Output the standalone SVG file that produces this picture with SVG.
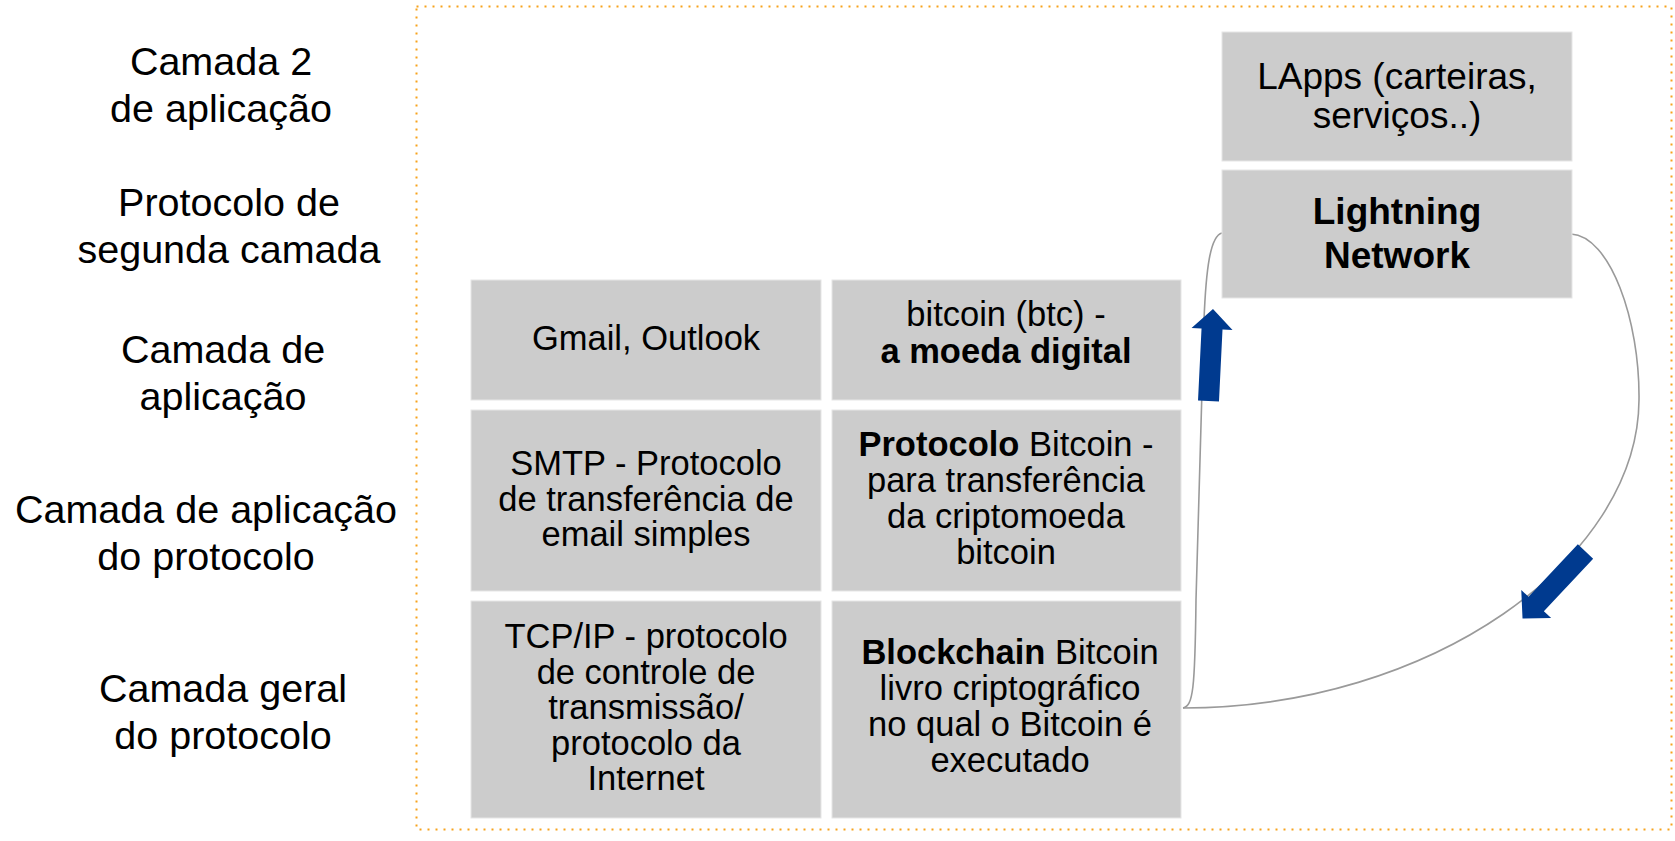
<svg xmlns="http://www.w3.org/2000/svg" width="1675" height="841" viewBox="0 0 1675 841">
<style>
.box{fill:#cccccc;stroke:#e6e6e6;stroke-width:1}
.lbl{font-family:"Liberation Sans",Arial,sans-serif;font-size:39.5px;fill:#000;text-anchor:middle}
.t{font-family:"Liberation Sans",Arial,sans-serif;font-size:34.5px;fill:#000;text-anchor:middle}
.t2{font-family:"Liberation Sans",Arial,sans-serif;font-size:37px;fill:#000;text-anchor:middle}
.b{font-weight:bold}
.conn{fill:none;stroke:#9a9a9a;stroke-width:1.6}
.arr{fill:#003a8f}
</style>
<defs>
<polygon id="bigArrow" points="0,-10.5 72,-10.5 72,-20.5 92,0 72,20.5 72,10.5 0,10.5"/>
</defs>
<rect width="1675" height="841" fill="#fff"/>
<rect id="frame" x="416.5" y="6.5" width="1255" height="823" fill="none" stroke="#f7a21b" stroke-width="2" stroke-dasharray="2 6"/>

<g id="labels">
<text class="lbl" x="221" y="75">Camada 2</text>
<text class="lbl" x="221" y="122">de aplicação</text>
<text class="lbl" x="229" y="216">Protocolo de</text>
<text class="lbl" x="229" y="263">segunda camada</text>
<text class="lbl" x="223" y="363">Camada de</text>
<text class="lbl" x="223" y="410">aplicação</text>
<text class="lbl" x="206" y="523">Camada de aplicação</text>
<text class="lbl" x="206" y="570">do protocolo</text>
<text class="lbl" x="223" y="702">Camada geral</text>
<text class="lbl" x="223" y="749">do protocolo</text>
</g>

<g id="connectors">
<path class="conn" d="M1183,708 C1193,706 1195,690 1196,600 L1204,320 C1206,270 1210,236 1222,233"/>
<path class="conn" d="M1571,234 C1610,236 1640,320 1639,400 C1638,560 1430,708 1183,708"/>
<use href="#bigArrow" class="arr" transform="translate(1208.5,401) rotate(-87.2)"/>
<use href="#bigArrow" class="arr" transform="translate(1585.5,551.5) rotate(133.2)"/>
</g>

<g id="lapps">
<rect class="box" x="1222" y="32" width="350" height="129"/>
<text class="t2" x="1397" y="89">LApps (carteiras,</text>
<text class="t2" x="1397" y="128">serviços..)</text>
</g>
<g id="lightning">
<rect class="box" x="1222" y="170" width="350" height="128"/>
<text class="t2 b" x="1397" y="224">Lightning</text>
<text class="t2 b" x="1397" y="268">Network</text>
</g>

<g id="gmail">
<rect class="box" x="471" y="280" width="350" height="120"/>
<text class="t" x="646" y="350">Gmail, Outlook</text>
</g>
<g id="bitcoin">
<rect class="box" x="832" y="280" width="349" height="120"/>
<text class="t" x="1006" y="326">bitcoin (btc) -</text>
<text class="t b" x="1006" y="363">a moeda digital</text>
</g>
<g id="smtp">
<rect class="box" x="471" y="410" width="350" height="181"/>
<text class="t" x="646" y="475">SMTP - Protocolo</text>
<text class="t" x="646" y="511">de transferência de</text>
<text class="t" x="646" y="546">email simples</text>
</g>
<g id="protocolo">
<rect class="box" x="832" y="410" width="349" height="181"/>
<text class="t" x="1006" y="456"><tspan class="b">Protocolo</tspan> Bitcoin -</text>
<text class="t" x="1006" y="492">para transferência</text>
<text class="t" x="1006" y="528">da criptomoeda</text>
<text class="t" x="1006" y="564">bitcoin</text>
</g>
<g id="tcpip">
<rect class="box" x="471" y="601" width="350" height="217"/>
<text class="t" x="646" y="648">TCP/IP - protocolo</text>
<text class="t" x="646" y="684">de controle de</text>
<text class="t" x="646" y="719">transmissão/</text>
<text class="t" x="646" y="755">protocolo da</text>
<text class="t" x="646" y="790">Internet</text>
</g>
<g id="blockchain">
<rect class="box" x="832" y="601" width="349" height="217"/>
<text class="t" x="1010" y="664"><tspan class="b">Blockchain</tspan> Bitcoin</text>
<text class="t" x="1010" y="700">livro criptográfico</text>
<text class="t" x="1010" y="736">no qual o Bitcoin é</text>
<text class="t" x="1010" y="772">executado</text>
</g>
</svg>
